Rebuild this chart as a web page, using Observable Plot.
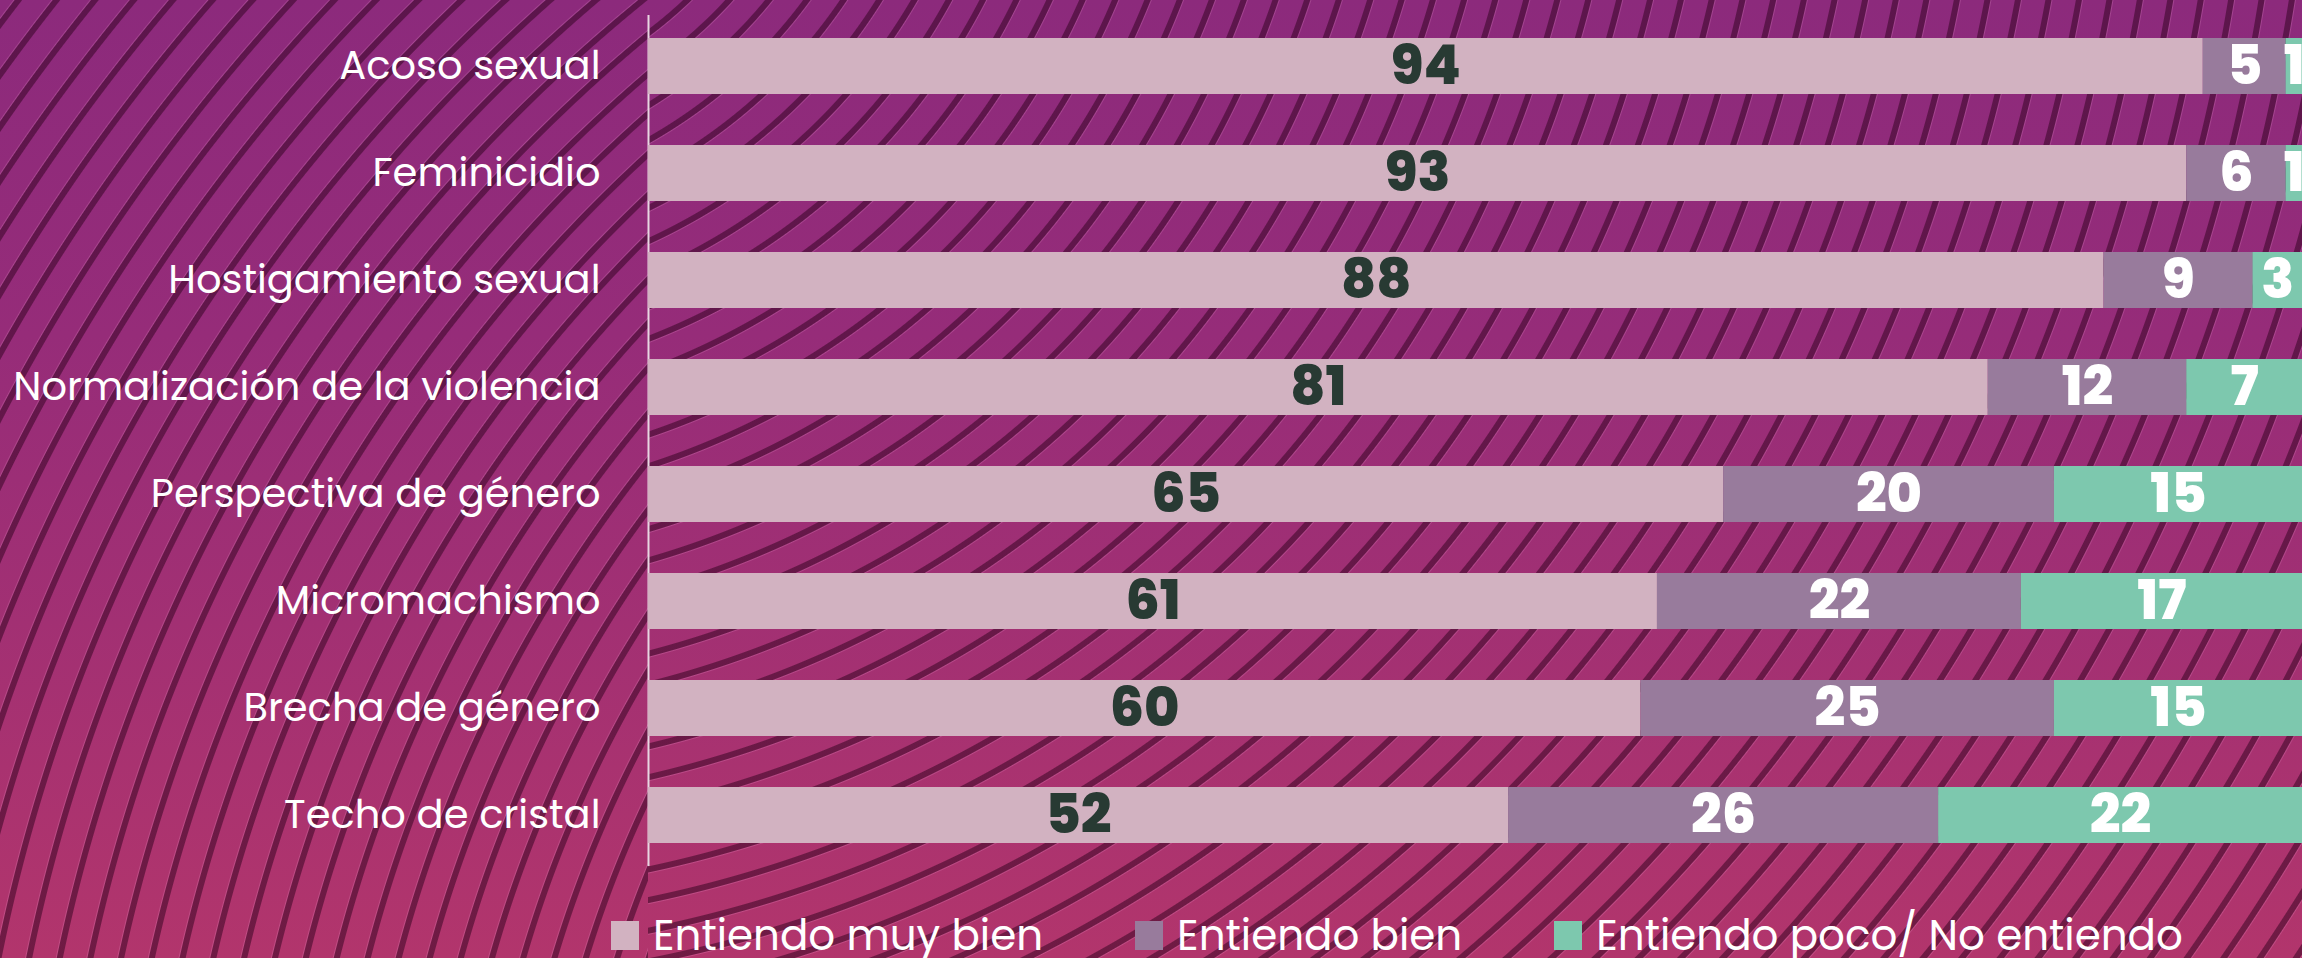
<!DOCTYPE html>
<html>
<head>
<meta charset="utf-8">
<script src="https://cdn.jsdelivr.net/npm/d3@7"></script>
<script src="https://cdn.jsdelivr.net/npm/@observablehq/plot@0.6"></script>
<style>
  html, body { margin: 0; padding: 0; width: 2302px; height: 958px; overflow: hidden; }
  body { position: relative; background: linear-gradient(180deg, #8c2a7c 0%, #962c79 35%, #a23073 65%, #b2356c 100%); font-family: Poppins, Inter, "Noto Sans", sans-serif; }
  .bg { position: absolute; top: 0; height: 958px; }
  #bgL { left: 0; width: 648px;
    background: repeating-radial-gradient(circle at 1700px 1300px, rgba(0,0,0,0) 0px, rgba(0,0,0,0) 22px, rgba(45,0,28,0.5) 23px, rgba(45,0,28,0.5) 28px, rgba(255,170,225,0.2) 29px, rgba(0,0,0,0) 30px); }
  #bgR { left: 648px; width: 1654px;
    background: repeating-radial-gradient(circle at -248px -300px, rgba(0,0,0,0) 0px, rgba(0,0,0,0) 22px, rgba(45,0,28,0.5) 23px, rgba(45,0,28,0.5) 28px, rgba(255,170,225,0.2) 29px, rgba(0,0,0,0) 30px); }
  #chart { position: absolute; left: 0; top: 0; }
  #legend { position: absolute; top: 910px; left: 611px; display: flex; gap: 92px; color: white; font-size: 42px; line-height: 52px; font-weight: 400; white-space: nowrap; }
  .item { display: flex; align-items: center; gap: 14px; }
  .sw { width: 28px; height: 29px; display: inline-block; margin-top: -2px; }
</style>
</head>
<body>
<div class="bg" id="bgL"></div>
<div class="bg" id="bgR"></div>
<div id="chart"></div>
<div id="legend"></div>
<script>
const categories = ["Acoso sexual", "Feminicidio", "Hostigamiento sexual", "Normalización de la violencia", "Perspectiva de género", "Micromachismo", "Brecha de género", "Techo de cristal"];
const muyBien = [94, 93, 88, 81, 65, 61, 60, 52];
const bien = [5, 6, 9, 12, 20, 22, 25, 26];
const poco = [1, 1, 3, 7, 15, 17, 15, 22];
const responses = ["Entiendo muy bien", "Entiendo bien", "Entiendo poco/ No entiendo"];
const colors = ["#d2b2c1", "#987b9c", "#7dc8ae"];

const series = [muyBien, bien, poco];
const data = responses.flatMap((r, i) => categories.map((c, j) => ({cat: c, resp: r, value: series[i][j]})));

const stack = (extra) => Plot.stackX({x: "value", y: "cat", z: "resp", ...extra});

const chart = Plot.plot({
  width: 2302,
  height: 880,
  marginLeft: 648,
  marginRight: 0,
  marginTop: 15,
  marginBottom: 14,
  x: {domain: [0, 100], axis: null},
  y: {domain: categories, paddingInner: 0.473, paddingOuter: 0.202, axis: null},
  color: {domain: responses, range: colors},
  style: {background: "transparent", color: "white", fontFamily: "Poppins, Inter, 'Noto Sans', sans-serif", overflow: "hidden"},
  marks: [
    Plot.ruleX([0], {stroke: "#e8d6e2", strokeWidth: 2}),
    Plot.barX(data, Plot.stackX({x: "value", y: "cat", fill: "resp"})),
    Plot.axisY({tickSize: 0, tickPadding: 48, fontSize: 40, label: null, fill: "white"}),
    Plot.text(data, stack({text: d => d.resp === responses[0] ? String(d.value) : "", fill: "#283a33", fontSize: 54, fontWeight: 800})),
    Plot.text(data, stack({text: d => d.resp !== responses[0] ? String(d.value) : "", fill: "white", fontSize: 54, fontWeight: 800}))
  ]
});
document.getElementById("chart").appendChild(chart);

const legend = document.getElementById("legend");
responses.forEach((r, i) => {
  const item = document.createElement("div");
  item.className = "item";
  const sw = document.createElement("span");
  sw.className = "sw";
  sw.style.background = colors[i];
  const t = document.createElement("span");
  t.textContent = r;
  item.appendChild(sw);
  item.appendChild(t);
  legend.appendChild(item);
});
</script>
</body>
</html>
